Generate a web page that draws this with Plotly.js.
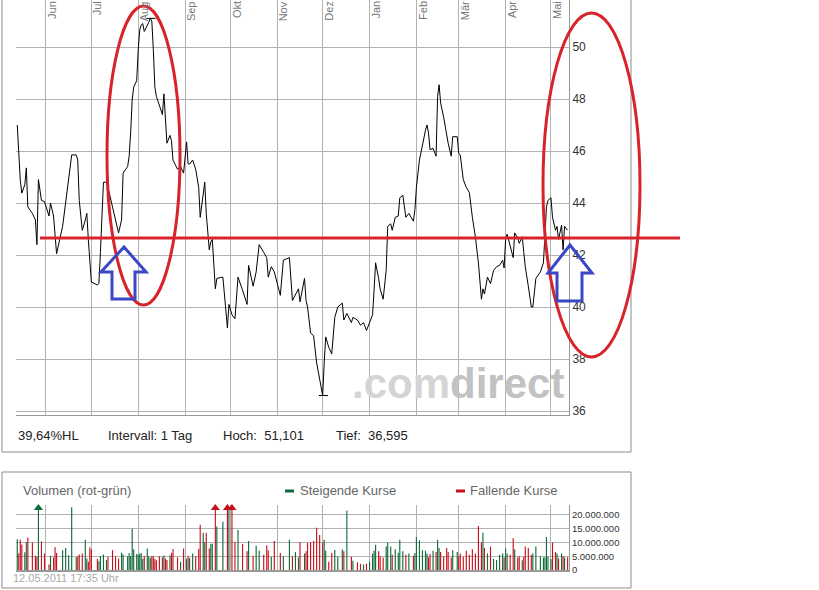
<!DOCTYPE html>
<html><head><meta charset="utf-8">
<script src="https://cdn.plot.ly/plotly-3.0.1.min.js"></script>
<style>html,body{margin:0;padding:0;background:#fff}</style>
</head><body><div id="chart" style="width:819px;height:590px"></div>
<script>
// ---------- data ----------
const dates = [
"2010-05-13","2010-05-14","2010-05-15","2010-05-16","2010-05-18","2010-05-19","2010-05-20","2010-05-23","2010-05-25","2010-05-26","2010-05-27","2010-05-29","2010-05-31",
"2010-06-03","2010-06-04","2010-06-06","2010-06-07","2010-06-08","2010-06-12","2010-06-14","2010-06-16","2010-06-18","2010-06-21","2010-06-22","2010-06-23","2010-06-25","2010-06-27","2010-06-28","2010-06-29","2010-06-30",
"2010-07-01","2010-07-05","2010-07-06","2010-07-07","2010-07-09","2010-07-11","2010-07-12","2010-07-15","2010-07-17","2010-07-19","2010-07-21","2010-07-22","2010-07-25","2010-07-26","2010-07-27","2010-07-28","2010-07-29","2010-07-31",
"2010-08-01","2010-08-02","2010-08-03","2010-08-04","2010-08-05","2010-08-07","2010-08-08","2010-08-09","2010-08-10","2010-08-11","2010-08-12","2010-08-13","2010-08-15","2010-08-17","2010-08-18","2010-08-19","2010-08-20","2010-08-22","2010-08-23","2010-08-24","2010-08-27","2010-08-29","2010-08-31",
"2010-09-02","2010-09-03","2010-09-04","2010-09-06","2010-09-08","2010-09-10","2010-09-11","2010-09-13","2010-09-14","2010-09-15","2010-09-17","2010-09-18","2010-09-19","2010-09-21","2010-09-22","2010-09-26","2010-09-29","2010-09-30",
"2010-10-02","2010-10-04","2010-10-06","2010-10-09","2010-10-12","2010-10-13","2010-10-16","2010-10-18","2010-10-20","2010-10-23","2010-10-25","2010-10-26","2010-10-28","2010-10-30",
"2010-11-03","2010-11-05","2010-11-09","2010-11-11","2010-11-13","2010-11-15","2010-11-16","2010-11-19","2010-11-20","2010-11-21","2010-11-23","2010-11-25","2010-11-27","2010-11-29",
"2010-12-01","2010-12-02","2010-12-03","2010-12-05","2010-12-07","2010-12-09","2010-12-11","2010-12-14","2010-12-15","2010-12-17","2010-12-20","2010-12-21","2010-12-24","2010-12-26","2010-12-28","2010-12-30",
"2011-01-01","2011-01-03","2011-01-04","2011-01-05","2011-01-07","2011-01-08","2011-01-10","2011-01-12","2011-01-13","2011-01-15","2011-01-16","2011-01-18","2011-01-20","2011-01-21","2011-01-23","2011-01-25","2011-01-27","2011-01-30","2011-01-31",
"2011-02-01","2011-02-03","2011-02-05","2011-02-07","2011-02-08","2011-02-09","2011-02-10","2011-02-12","2011-02-14","2011-02-15","2011-02-16","2011-02-17","2011-02-19","2011-02-21","2011-02-22","2011-02-24","2011-02-25","2011-02-28",
"2011-03-01","2011-03-02","2011-03-04","2011-03-06","2011-03-08","2011-03-10","2011-03-12","2011-03-14","2011-03-16","2011-03-17","2011-03-18","2011-03-20","2011-03-22","2011-03-24","2011-03-26","2011-03-28","2011-03-30","2011-03-31",
"2011-04-01","2011-04-02","2011-04-04","2011-04-06","2011-04-07","2011-04-09","2011-04-10","2011-04-12","2011-04-13","2011-04-14","2011-04-16","2011-04-18","2011-04-19","2011-04-21","2011-04-24","2011-04-26","2011-04-27","2011-04-28","2011-04-29",
"2011-05-01","2011-05-02","2011-05-04","2011-05-05","2011-05-06","2011-05-08","2011-05-09","2011-05-10","2011-05-12"
];
const prices = [
47.0,45.96,44.88,44.38,44.7,45.35,43.85,43.6,43.35,42.4,44.9,44.1,44.05,
43.5,44.0,43.5,42.6,42.05,43.1,44.0,44.9,45.85,45.85,45.65,44.1,42.95,43.35,43.6,42.6,41.9,
40.96,40.85,40.9,42.1,44.8,44.8,44.6,43.85,43.35,42.85,43.35,45.15,45.4,45.8,46.7,47.96,48.46,48.7,
49.9,50.65,50.85,50.9,50.6,50.8,50.95,51.101,51.0,49.9,48.46,48.1,47.7,47.4,48.2,47.1,46.3,46.6,46.4,45.65,45.3,45.4,45.15,
46.35,45.5,45.5,45.65,45.3,44.6,43.45,44.4,44.8,43.6,42.2,42.5,42.6,40.7,41.1,41.15,39.2,40.1,
39.7,39.55,41.15,40.65,40.1,41.6,40.8,41.35,42.4,42.1,41.9,41.15,41.55,41.35,
40.45,41.8,41.9,40.25,40.5,40.7,40.2,41.1,40.25,40.0,39.0,38.9,37.85,37.2,
36.595,37.85,38.85,38.45,38.2,39.6,40.0,40.15,39.5,39.75,39.4,39.6,39.5,39.3,39.4,39.1,
39.4,39.7,40.65,41.7,41.1,40.7,40.3,41.4,43.1,43.2,42.95,43.45,43.5,44.2,44.3,43.45,43.6,43.3,43.75,
44.6,45.65,46.3,46.8,47.0,46.7,46.05,46.1,45.8,48.1,48.55,47.85,47.3,46.55,46.3,45.8,46.55,46.55,
45.9,45.85,44.9,44.6,44.4,43.45,42.7,41.7,40.3,40.7,40.5,41.15,40.9,41.4,41.55,41.6,41.8,41.5,
42.6,42.8,42.3,41.9,42.85,42.65,42.45,42.7,42.1,41.55,40.8,40.0,40.0,41.1,41.35,41.7,42.75,43.85,44.1,
44.2,43.45,42.95,43.1,42.6,43.15,42.2,43.1,42.95
];
// volume in millions of shares
const volumes = [
11.2,6.1,11.0,9.3,6.4,10.2,11.8,10.0,5.2,4.8,26,10.4,6.0,
2.0,5.2,4.6,8.3,6.2,7.2,8.0,5.4,22.8,4.6,5.0,5.6,6.0,11.0,4.2,3.0,8.2,
7.4,4.0,3.2,5.1,5.6,3.6,4.8,7.2,5.0,4.2,6.3,5.6,5.0,6.2,5.1,15.0,7.5,5.8,
5.5,6.0,6.1,4.1,5.2,7.8,5.0,4.4,5.1,5.0,4.0,3.5,5.0,4.6,5.3,4.2,3.6,5.3,6.2,7.6,4.6,3.0,7.8,
4.1,5.0,4.4,6.0,5.0,7.6,16.4,13.5,10.1,13.5,7.8,9.5,9.5,26,15.8,17.5,26,21.8,
26,10.3,14.5,9.5,6.8,10.5,5.2,8.8,7.0,5.5,9.0,7.2,4.8,10.5,
6.2,5.0,11.0,5.0,6.5,4.6,10.2,6.0,6.8,9.8,10.1,10.5,15.3,12.7,
10.0,11.0,7.0,3.0,6.2,7.3,4.9,7.5,6.8,21.5,4.8,3.4,2.8,2.2,2.0,2.3,
3.0,6.0,7.1,9.2,6.8,5.0,4.5,8.5,10.0,8.5,5.5,7.5,6.3,11.0,6.8,5.5,6.0,5.2,6.2,
12.0,10.8,7.2,7.0,6.0,4.6,5.8,7.0,6.5,11.0,8.0,6.5,5.0,8.0,6.5,4.5,7.2,6.5,
5.0,6.0,4.8,7.0,5.5,7.5,6.0,16.0,10.0,13.5,8.0,6.0,8.5,4.0,3.6,5.5,6.0,4.5,
7.8,6.0,5.5,11.5,7.5,4.5,5.0,3.5,4.8,8.5,8.0,5.5,6.0,8.5,5.0,4.5,4.6,12.0,4.8,
3.9,10.0,6.5,6.0,4.2,6.0,5.0,4.5,4.6
];
const monthTicks = ["2010-06-01","2010-07-01","2010-08-01","2010-09-01","2010-10-01","2010-11-01","2010-12-01","2011-01-01","2011-02-01","2011-03-01","2011-04-01","2011-05-01"];
const monthLabels = ["Jun","Jul","Aug","Sep","Okt","Nov","Dez","Jan","Feb","Mär","Apr","Mai"];
const priceTicks = [36,38,40,42,44,46,48,50];
const volumeTicks = [0,5,10,15,20];
const volumeTickLabels = ["0","5.000.000","10.000.000","15.000.000","20.000.000"];
const intervalText = "Intervall: 1 Tag";
const volumeTitle = "Volumen (rot-grün)";
const legendUp = "Steigende Kurse";
const legendDown = "Fallende Kurse";
const stampText = "12.05.2011 17:35 Uhr";

// ---------- helpers ----------
const W = 819, H = 590;
const px = p => p / W, py = p => 1 - p / H;
const GREEN = "#116b3a", RED = "#c8101a", ANNO_RED = "#d8232a", ANNO_BLUE = "#3b47c4";
const FONT = "Liberation Sans, Arial, sans-serif";
const fmt = (v, d) => v.toFixed(d).replace(".", ",");

const n = Math.min(dates.length, prices.length, volumes.length);
const up = [];
for (let i = 0; i < n; i++) up.push(i === 0 ? true : prices[i] >= prices[i - 1]);
const barColors = up.map(u => u ? GREEN : RED);

const hi = Math.max(...prices.slice(0, n)), lo = Math.min(...prices.slice(0, n));
const hiIdx = prices.indexOf(hi), loIdx = prices.indexOf(lo);
const shiftDay = (s, k) => { const d = new Date(s + "T12:00:00Z"); d.setUTCDate(d.getUTCDate() + k); return d.toISOString().slice(0, 10) + " 12:00"; };

const VOL_MAX = 23.6;
const capX = [], capY = [], capC = [];
for (let i = 0; i < n; i++) if (volumes[i] > VOL_MAX) { capX.push(dates[i]); capY.push(VOL_MAX - 1.1); capC.push(barColors[i]); }

const xRange = ["2010-05-12 04:00", "2011-05-12 22:00"];

const traces = [
  { type: "scatter", mode: "lines", x: dates.slice(0, n), y: prices.slice(0, n), xaxis: "x", yaxis: "y",
    line: { color: "#000", width: 1 }, hoverinfo: "skip" },
  { type: "scatter", mode: "lines", xaxis: "x", yaxis: "y",
    x: [shiftDay(dates[hiIdx], -3), shiftDay(dates[hiIdx], 3), null, shiftDay(dates[loIdx], -3), shiftDay(dates[loIdx], 3)],
    y: [hi, hi, null, lo, lo], line: { color: "#000", width: 1 }, connectgaps: false, hoverinfo: "skip" },
  { type: "bar", x: dates.slice(0, n), y: volumes.slice(0, n), xaxis: "x2", yaxis: "y2",
    marker: { color: barColors, line: { width: 0 } }, width: 0.75 * 86400000, hoverinfo: "skip" },
  { type: "scatter", mode: "markers", x: capX, y: capY, xaxis: "x2", yaxis: "y2", cliponaxis: false,
    marker: { symbol: "triangle-up", size: 8, color: capC }, hoverinfo: "skip" }
];

const grid = "#b2b2b2";
const layout = {
  width: W, height: H, margin: { l: 0, r: 0, t: 0, b: 0 },
  paper_bgcolor: "#fff", plot_bgcolor: "#fff", showlegend: false,
  font: { family: FONT, size: 12, color: "#333" },
  xaxis: { domain: [px(16), px(569)], range: xRange, type: "date", anchor: "y",
    tickmode: "array", tickvals: monthTicks, showticklabels: false, ticks: "",
    showgrid: true, gridcolor: grid, gridwidth: 1, showline: true, linecolor: "#999", linewidth: 1, zeroline: false, fixedrange: true },
  yaxis: { domain: [py(415), 1], range: [35.846, 51.808], side: "right", anchor: "x",
    tickmode: "array", tickvals: priceTicks, ticks: "", showgrid: true, gridcolor: grid,
    showline: true, linecolor: "#999", zeroline: false, tickfont: { size: 12, color: "#333" }, fixedrange: true },
  xaxis2: { domain: [px(16), px(569)], range: xRange, type: "date", anchor: "y2",
    tickmode: "array", tickvals: monthTicks, showticklabels: false, ticks: "",
    showgrid: true, gridcolor: grid, showline: true, linecolor: "#999", linewidth: 2, zeroline: false, fixedrange: true },
  yaxis2: { domain: [py(570), py(505)], range: [0, VOL_MAX], side: "right", anchor: "x2",
    tickmode: "array", tickvals: volumeTicks, ticktext: volumeTickLabels, ticks: "",
    showgrid: true, gridcolor: grid, showline: true, linecolor: "#999", zeroline: false,
    tickfont: { size: 9.5, color: "#333" }, fixedrange: true },
  shapes: [], annotations: []
};

// panel frames
layout.shapes.push({ type: "rect", xref: "paper", yref: "paper", x0: px(2), x1: px(631), y0: py(452), y1: py(-2), line: { color: "#8c8c8c", width: 1 } });
layout.shapes.push({ type: "rect", xref: "paper", yref: "paper", x0: px(2), x1: px(631), y0: py(588), y1: py(472), line: { color: "#8c8c8c", width: 1 } });
// legend swatches
layout.shapes.push({ type: "line", xref: "paper", yref: "paper", x0: px(285), x1: px(294), y0: py(491), y1: py(491), line: { color: GREEN, width: 3 } });
layout.shapes.push({ type: "line", xref: "paper", yref: "paper", x0: px(456), x1: px(465), y0: py(491), y1: py(491), line: { color: RED, width: 3 } });
// hand-drawn markup
layout.shapes.push({ type: "line", xref: "paper", yref: "paper", x0: px(40), x1: px(680), y0: py(238), y1: py(238), line: { color: ANNO_RED, width: 3 } });
layout.shapes.push({ type: "circle", xref: "paper", yref: "paper", x0: px(107), x1: px(180), y0: py(305), y1: py(6), line: { color: ANNO_RED, width: 3 } });
layout.shapes.push({ type: "circle", xref: "paper", yref: "paper", x0: px(543), x1: px(640), y0: py(357), y1: py(13), line: { color: ANNO_RED, width: 3 } });
function arrowPath(tx, ty, hl, hr, hb, sl, sr, sb) {
  const P = (x, y) => px(x).toFixed(5) + "," + py(y).toFixed(5);
  return "M" + P(tx, ty) + " L" + P(hr, hb) + " L" + P(sr, hb) + " L" + P(sr, sb) + " L" + P(sl, sb) + " L" + P(sl, hb) + " L" + P(hl, hb) + " Z";
}
layout.shapes.push({ type: "path", xref: "paper", yref: "paper", path: arrowPath(124, 247, 101, 146, 272, 112, 135, 299), line: { color: ANNO_BLUE, width: 3 } });
layout.shapes.push({ type: "path", xref: "paper", yref: "paper", path: arrowPath(570, 245, 548, 592, 273, 557, 582, 301), line: { color: ANNO_BLUE, width: 3 } });

// month labels (rotated, top of the price panel)
monthTicks.forEach((m, i) => layout.annotations.push({
  xref: "x", yref: "paper", x: m, y: 1, xshift: 6, yshift: 1, text: monthLabels[i], textangle: -90,
  showarrow: false, xanchor: "center", yanchor: "top", font: { size: 11, color: "#777" }
}));

// info line
const hlPct = (hi - lo) / lo * 100;
const info = [
  [16, fmt(hlPct, 2) + "%HL"],
  [106, intervalText],
  [221, "Hoch:\u00a0\u00a0" + fmt(hi, 3)],
  [334, "Tief:\u00a0\u00a0" + fmt(lo, 3)]
];
info.forEach(([x, t]) => layout.annotations.push({ xref: "paper", yref: "paper", x: px(x), y: py(435), text: t,
  showarrow: false, xanchor: "left", yanchor: "middle", font: { size: 13, color: "#222" } }));

// watermark
layout.annotations.push({ xref: "paper", yref: "paper", x: px(350), y: py(383), xanchor: "left", yanchor: "middle", showarrow: false,
  text: '<span style="color:#d4d4d4">.com</span><span style="color:#c2c2c2">direct</span>',
  font: { family: FONT, size: 42, weight: "bold", color: "#c8c8c8" } });

// volume panel texts
layout.annotations.push({ xref: "paper", yref: "paper", x: px(21), y: py(490), text: volumeTitle, showarrow: false, xanchor: "left", yanchor: "middle", font: { size: 13, color: "#666" } });
layout.annotations.push({ xref: "paper", yref: "paper", x: px(298), y: py(490), text: legendUp, showarrow: false, xanchor: "left", yanchor: "middle", font: { size: 13, color: "#666" } });
layout.annotations.push({ xref: "paper", yref: "paper", x: px(468), y: py(490), text: legendDown, showarrow: false, xanchor: "left", yanchor: "middle", font: { size: 13, color: "#666" } });
layout.annotations.push({ xref: "paper", yref: "paper", x: px(11), y: py(578), text: stampText, showarrow: false, xanchor: "left", yanchor: "middle", font: { size: 11, color: "#aaa" } });

Plotly.newPlot("chart", traces, layout, { staticPlot: true, displayModeBar: false });
</script>
</body></html>
